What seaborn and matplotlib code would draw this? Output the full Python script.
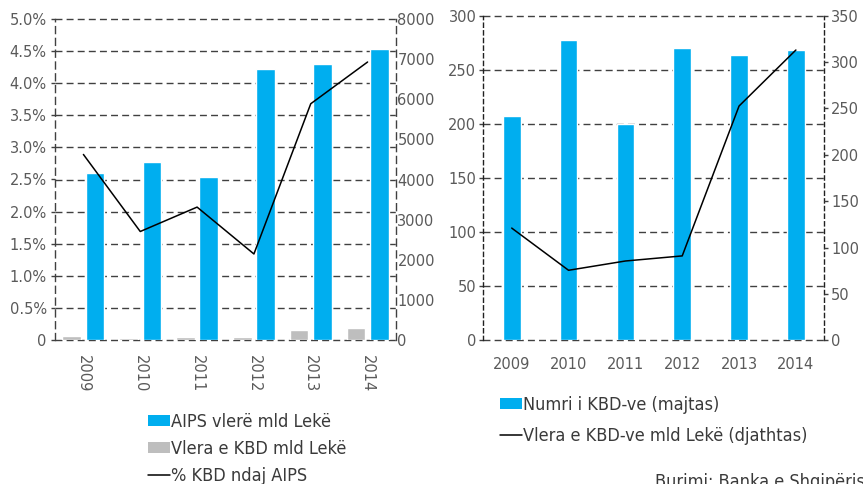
import numpy as np
import pandas as pd
import matplotlib
matplotlib.use("Agg")
import matplotlib.pyplot as plt
from matplotlib import font_manager
from matplotlib.patches import Patch
from matplotlib.lines import Line2D
import seaborn as sns

# ---------------- data ----------------
years = ["2009", "2010", "2011", "2012", "2013", "2014"]
# left chart
aips_value = [4170, 4430, 4070, 6750, 6870, 7250]          # AIPS vlerë mld Lekë (right axis)
kbd_value = [110, 60, 75, 75, 245, 300]                    # Vlera e KBD mld Lekë (right axis)
kbd_pct = [0.0289, 0.0169, 0.0207, 0.0134, 0.0368, 0.0433]  # % KBD ndaj AIPS (left axis)
pct_ticks = [0, 0.005, 0.01, 0.015, 0.02, 0.025, 0.03, 0.035, 0.04, 0.045, 0.05]
pct_labels = ["0", "0.5%", "1.0%", "1.5%", "2.0%", "2.5%", "3.0%", "3.5%", "4.0%", "4.5%", "5.0%"]
lek_ticks = [0, 1000, 2000, 3000, 4000, 5000, 6000, 7000, 8000]
# right chart
kbd_count = [207, 278, 200, 270, 264, 268]          # Numri i KBD-ve (majtas)
kbd_value_r = [121, 75.5, 85.5, 91, 252.6, 313]     # Vlera e KBD-ve mld Lekë (djathtas)
count_ticks = [0, 50, 100, 150, 200, 250, 300]
value_ticks = [0, 50, 100, 150, 200, 250, 300, 350]

legend_left = ["AIPS vlerë mld Lekë", "Vlera e KBD mld Lekë", "% KBD ndaj AIPS"]
legend_right = ["Numri i KBD-ve (majtas)", "Vlera e KBD-ve mld Lekë (djathtas)"]
source = "Burimi: Banka e Shqipërisë"

# ---------------- style ----------------
sns.set_style("white")
plt.rcParams["font.family"] = ["DejaVu Sans"]
BLUE = "#00AEEF"
GRAY = "#BEBEBE"
TICK_C = "#5a5a5a"
TEXT_C = "#3a3a3a"
GRID_C = "#404040"


def pick_legend_font():
    for name in ["Liberation Sans Narrow"]:
        try:
            font_manager.findfont(font_manager.FontProperties(family=name),
                                  fallback_to_default=False)
            return {"family": [name, "DejaVu Sans"], "size": 14}
        except Exception:
            pass
    path = font_manager.findfont(font_manager.FontProperties(family="DejaVu Sans",
                                                             stretch="condensed"))
    if "Condensed" in path:
        return {"family": ["DejaVu Sans"], "stretch": "condensed", "size": 13}
    return {"family": ["Liberation Sans", "DejaVu Sans"], "size": 13}


LEG_PROP = pick_legend_font()

W, H = 863, 484
fig = plt.figure(figsize=(W / 100, H / 100), dpi=100)


def fx(px):
    return px / W


def fy(px):
    return (H - px) / H


# ---------------- left chart ----------------
axb = fig.add_axes([fx(55), fy(340), fx(396) - fx(55), fy(19) - fy(340)])
df_left = pd.DataFrame({
    "year": years * 2,
    "value": kbd_value + aips_value,
    "series": ["kbd"] * len(years) + ["aips"] * len(years),
})
sns.barplot(data=df_left, x="year", y="value", hue="series", order=years,
            hue_order=["kbd", "aips"], palette=[GRAY, BLUE], width=0.82, gap=0.2,
            saturation=1, legend=False, ax=axb, zorder=2)
axl = axb.twinx()
sns.lineplot(x=np.arange(len(years)), y=kbd_pct, color="black", lw=1.1, ax=axl)

axb.set_ylim(0, 8000)
axl.set_ylim(0, 0.05)
axb.set_xlim(-0.5, len(years) - 0.5)
axb.yaxis.tick_right()
axl.yaxis.tick_left()
axb.set_yticks(lek_ticks)
axb.set_yticklabels([str(t) for t in lek_ticks])
axl.set_yticks(pct_ticks)
axl.set_yticklabels(pct_labels)
axb.set_xlabel("")
axb.set_ylabel("")
axl.set_ylabel("")
axb.set_xticks(range(len(years)))
axb.set_xticklabels(years, rotation=-90)
# grid lines at the % ticks, drawn below the bars
for t in pct_ticks:
    axb.plot([0, 1], [t, t], transform=axl.get_yaxis_transform(), color=GRID_C,
             lw=1.0, ls=(0, (5, 3)), zorder=0.5, clip_on=False)
for sp in axb.spines.values():
    sp.set_visible(False)
for name, sp in axl.spines.items():
    if name in ("left", "right"):
        sp.set_visible(True)
        sp.set_linestyle((0, (5, 3.5)))
        sp.set_color(GRID_C)
        sp.set_linewidth(1.0)
    else:
        sp.set_visible(False)
axb.tick_params(axis="x", length=0, pad=11, labelsize=10.5, labelcolor=TICK_C)
axb.tick_params(axis="y", right=True, left=False, length=0, pad=1,
                labelsize=10.5, labelcolor=TICK_C)
axl.tick_params(axis="y", left=True, right=False, length=3, width=1, color=GRID_C,
                pad=3, labelsize=10.5, labelcolor=TICK_C)
axl.patch.set_visible(False)

# ---------------- right chart ----------------
axr = fig.add_axes([fx(483.3), fy(340.3), fx(824.3) - fx(483.3), fy(15.7) - fy(340.3)])
df_right = pd.DataFrame({"year": years, "count": kbd_count})
sns.barplot(data=df_right, x="year", y="count", order=years, color=BLUE,
            saturation=1, width=0.31, ax=axr, zorder=2)
axr2 = axr.twinx()
sns.lineplot(x=np.arange(len(years)), y=kbd_value_r, color="black", lw=1.1, ax=axr2)
axr.set_ylim(0, 300)
axr2.set_ylim(0, 350)
axr.set_xlim(-0.5, len(years) - 0.5)
axr.set_yticks(count_ticks)
axr.set_yticklabels([str(t) for t in count_ticks])
axr2.set_yticks(value_ticks)
axr2.set_yticklabels([str(t) for t in value_ticks])
axr.set_xlabel("")
axr.set_ylabel("")
axr2.set_ylabel("")
axr.set_xticks(range(len(years)))
axr.set_xticklabels(years)
for t in count_ticks:
    axr.axhline(t, color=GRID_C, lw=1.0, ls=(0, (5, 3)), zorder=0.5, clip_on=False)
for name, sp in axr.spines.items():
    if name in ("left", "right"):
        sp.set_visible(True)
        sp.set_linestyle((0, (3, 2.5)))
        sp.set_color("#202020")
        sp.set_linewidth(1.0)
    else:
        sp.set_visible(False)
for sp in axr2.spines.values():
    sp.set_visible(False)
axr.tick_params(axis="x", length=0, pad=12, labelsize=10.5, labelcolor=TICK_C)
axr.tick_params(axis="y", left=True, length=3, width=1, color=GRID_C, pad=2,
                labelsize=10.5, labelcolor=TICK_C)
axr2.tick_params(axis="y", right=True, length=3, width=1, color=GRID_C, pad=2,
                 labelsize=10.5, labelcolor=TICK_C)

# ---------------- legends ----------------
h_left = [Patch(facecolor=BLUE, edgecolor="none"),
          Patch(facecolor=GRAY, edgecolor="none"),
          Line2D([], [], color="black", lw=1.1)]
fig.legend(h_left, legend_left, loc="upper left",
           bbox_to_anchor=(fx(148), fy(413)), frameon=False, prop=LEG_PROP,
           handlelength=1.2, handleheight=0.5, handletextpad=0.05,
           labelspacing=0.49, borderpad=0, borderaxespad=0, labelcolor=TEXT_C)
h_right = [Patch(facecolor=BLUE, edgecolor="none"),
           Line2D([], [], color="black", lw=1.1)]
fig.legend(h_right, legend_right, loc="upper left",
           bbox_to_anchor=(fx(500), fy(396)), frameon=False, prop=LEG_PROP,
           handlelength=1.2, handleheight=0.5, handletextpad=0.05,
           labelspacing=0.7, borderpad=0, borderaxespad=0, labelcolor=TEXT_C)
fig.text(fx(655), fy(473), source, ha="left", va="top", color=TEXT_C,
         fontproperties=font_manager.FontProperties(**LEG_PROP))

fig.savefig("out.png", dpi=100)
